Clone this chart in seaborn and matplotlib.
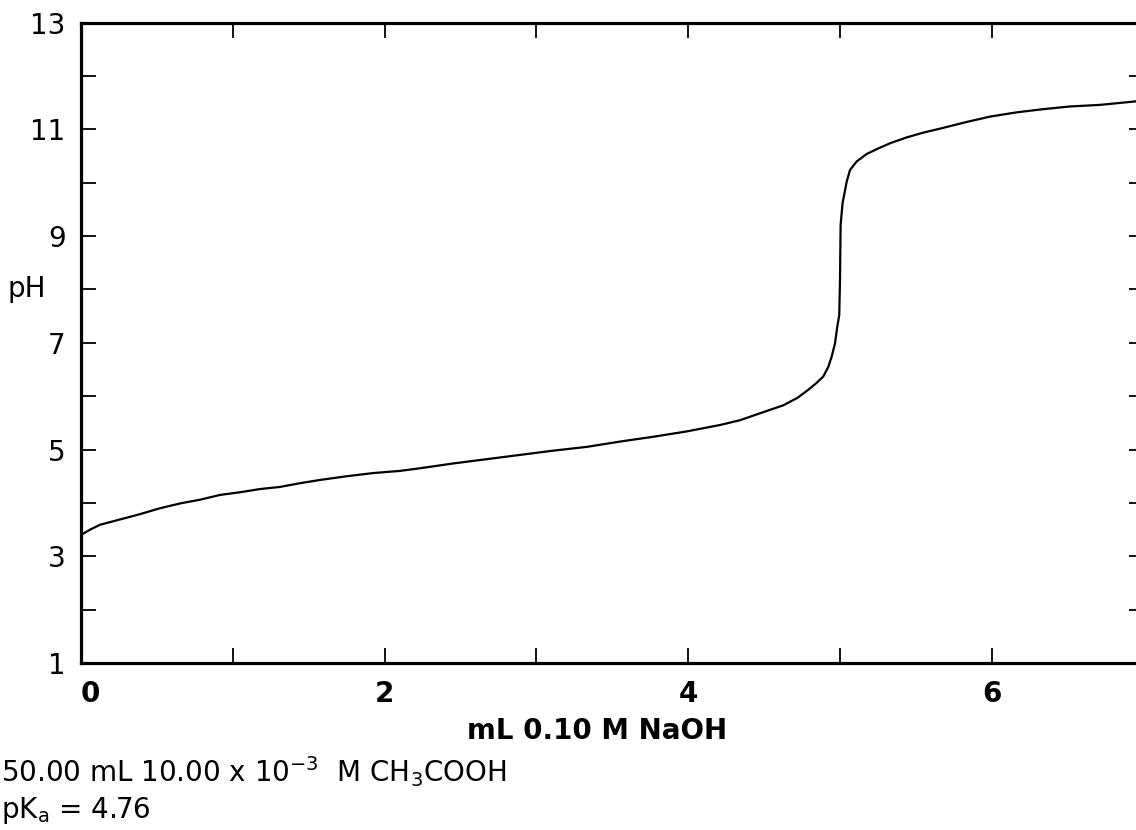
import numpy as np
import pandas as pd
import matplotlib
matplotlib.use("Agg")
import matplotlib.pyplot as plt
import seaborn as sns

# values
vol_naoh = [0.0, 0.06, 0.125, 0.257, 0.389, 0.520, 0.652, 0.784, 0.916, 1.047, 1.179,
            1.311, 1.443, 1.574, 1.750, 1.926, 2.101, 2.233, 2.453, 2.673, 2.892,
            3.112, 3.331, 3.551, 3.770, 3.990, 4.209, 4.341, 4.473, 4.627, 4.72, 4.791,
            4.846, 4.890, 4.923, 4.945, 4.967, 4.982, 4.995, 5.0, 5.004, 5.017,
            5.044, 5.066, 5.110, 5.176, 5.242, 5.329, 5.439, 5.549, 5.681, 5.835,
            5.988, 6.164, 6.340, 6.515, 6.713, 7.0]
ph = [3.40, 3.50, 3.59, 3.69, 3.79, 3.90, 3.99, 4.06, 4.15, 4.20, 4.26,
      4.30, 4.37, 4.43, 4.50, 4.56, 4.60, 4.65, 4.74, 4.82, 4.90,
      4.98, 5.05, 5.15, 5.24, 5.34, 5.46, 5.55, 5.68, 5.83, 5.97, 6.12,
      6.25, 6.37, 6.55, 6.74, 6.99, 7.30, 7.52, 8.18, 9.21, 9.62,
      10.02, 10.24, 10.40, 10.54, 10.63, 10.74, 10.85, 10.94, 11.03, 11.14,
      11.24, 11.32, 11.38, 11.43, 11.46, 11.54]

x_ticks = [0, 1, 2, 3, 4, 5, 6, 7]
x_ticklabels = ["0", "", "2", "", "4", "", "6", ""]
y_ticks = list(range(1, 14))
y_ticklabels = [str(v) if v % 2 == 1 else "" for v in y_ticks]

df = pd.DataFrame({"vol": vol_naoh, "pH": ph})

sns.set_style("ticks")
plt.rcParams['font.family'] = ['DejaVu Sans']
plt.rcParams['mathtext.default'] = 'regular'
plt.rcParams['text.color'] = 'black'
plt.rcParams['axes.labelcolor'] = 'black'
plt.rcParams['xtick.color'] = 'black'
plt.rcParams['ytick.color'] = 'black'

fig = plt.figure(figsize=(11.36, 8.30), dpi=100)
ax = fig.add_axes([81 / 1136, 1 - 663 / 830, 1062.6 / 1136, 640.3 / 830])

sns.lineplot(data=df, x="vol", y="pH", color="black", linewidth=1.6,
             sort=False, estimator=None, ax=ax)

ax.set_xlim(0, 7)
ax.set_ylim(1, 13)
ax.set_xticks(x_ticks)
ax.set_xticklabels(x_ticklabels, fontsize=20, fontweight="bold", color="black")
ax.set_yticks(y_ticks)
ax.set_yticklabels(y_ticklabels, fontsize=20, color="black")
ax.get_xticklabels()[0].set_horizontalalignment("left")

ax.tick_params(axis="both", direction="in", length=11, width=1.3,
               top=True, right=True, color="black")
ax.tick_params(axis="x", pad=12)
ax.tick_params(axis="y", pad=11)
for sp in ax.spines.values():
    sp.set_linewidth(2.3)
    sp.set_color("black")

ax.set_xlabel("mL 0.10 M NaOH", fontsize=20, fontweight="bold", color="black")
ax.xaxis.set_label_coords(3.4 / 7, -0.085)
ax.set_ylabel("pH", fontsize=20, rotation=0, va="center", ha="center", color="black")
ax.yaxis.set_label_coords(-0.051, 7 / 12)

fig.text(0.001, 1 - 782 / 830, r"50.00 mL 10.00 x 10$^{-3}$  M CH$_3$COOH",
         fontsize=20, va="baseline", ha="left", color="black")
fig.text(0.001, 1 - 818 / 830, r"pK$_a$ = 4.76",
         fontsize=20, va="baseline", ha="left", color="black")

fig.savefig("out.png", dpi=100)
